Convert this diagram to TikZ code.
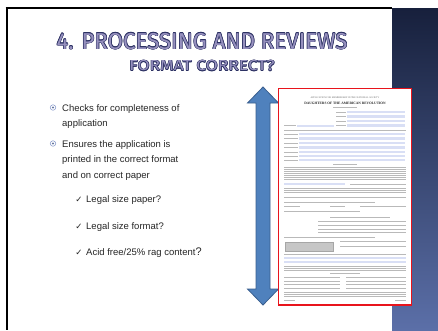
\documentclass[tikz,border=0pt]{standalone}
\usepackage{fontspec}
\setmainfont{Liberation Sans}
\newfontfamily\titlefont{Fira Sans}
\newfontfamily\tickfont{DejaVu Sans}
\newfontfamily\formserif{Liberation Serif}
\usepackage{xcolor}

\definecolor{ttlfill}{HTML}{9690BE}
\definecolor{ttledge}{HTML}{2C3163}
\definecolor{panelTop}{HTML}{17203C}
\definecolor{panelBot}{HTML}{5B6FA8}
\definecolor{arrowFill}{HTML}{4F81BD}
\definecolor{arrowEdge}{HTML}{3A5F8F}
\definecolor{docRed}{HTML}{E8141C}
\definecolor{formBlue}{HTML}{D9DFF5}
\definecolor{bulletRing}{HTML}{7F93C8}
\definecolor{bodyInk}{HTML}{262626}

% outlined title letters: dark copies round a light fill
\newcommand\ringtitle[3]{%
  \def\rt##1##2{\rlap{\kern##1\raisebox{##2}{\color{ttledge}#3}}}%
  \rt{-#1}{0pt}\rt{#1}{0pt}\rt{0pt}{#1}\rt{0pt}{-#1}%
  \rt{-#2}{#2}\rt{#2}{#2}\rt{-#2}{-#2}\rt{#2}{-#2}%
  #3}

\tikzset{
  titletext/.style={inner sep=0pt, text=ttlfill, font=\titlefont\fontsize{23}{26}\selectfont},
  subtitletext/.style={inner sep=0pt, text=ttlfill, font=\titlefont\fontsize{14.5}{16}\selectfont},
  bodytext/.style={inner sep=0pt, anchor=base west, text=bodyInk, font=\fontsize{9.5}{11}\selectfont},
  bulletmark/.style={circle, draw=bulletRing, line width=.5pt, fill=white, minimum size=5.5pt, inner sep=0pt,
    path picture={\fill[bulletRing!80!black] (path picture bounding box.center) circle (1.2pt);}},
  tickmark/.style={inner sep=0pt, anchor=base, text=bodyInk, font=\tickfont\fontsize{8.5}{9}\selectfont},
  blockarrow/.style={fill=arrowFill, draw=arrowEdge, line width=.8pt, line join=miter},
  docedge/.style={fill=white, draw=docRed, line width=1.6pt},
  formhead/.style={inner sep=0pt, text=black!60, font=\formserif\fontsize{2.4}{2.6}\selectfont},
  formtitle/.style={inner sep=0pt, text=black!85, font=\formserif\bfseries\fontsize{3.5}{3.7}\selectfont},
  formink/.style={draw=gray!55, line width=.45pt},
}

\begin{document}
\begin{tikzpicture}[x=1pt,y=-1pt]
        \useasboundingbox (0,0) rectangle (438,330);
        \fill[white] (0,0) rectangle (438,330);

        %blue side panel
        \shade[top color=panelTop, bottom color=panelBot] (392,8) rectangle (438,330);

        %slide frame
        \draw[line width=2pt] (5.7,7.7) -- (392,7.7);
        \draw[line width=2pt] (6.7,7.7) -- (6.7,330);

        %title and subtitle
        \node[titletext, anchor=base] (title) at (202,49.3) {\scalebox{.967}[1]{\ringtitle{.6pt}{.45pt}{4. PROCESSING AND REVIEWS}}};
        \node[subtitletext, anchor=base] (subtitle) at (202,70.7) {\scalebox{1.2}[1]{\ringtitle{.5pt}{.35pt}{FORMAT CORRECT?}}};

        %bullet points
        \node[bulletmark] (dot1) at (53,107.5) {};
        \node[bodytext] (checks) at (62,111) {Checks for completeness of};
        \node[bodytext] (checks2) at (62,126.5) {application};
        \node[bulletmark] (dot2) at (53,143.5) {};
        \node[bodytext] (ensures) at (62,147) {Ensures the application is};
        \node[bodytext] (ensures2) at (62,162.5) {printed in the correct format};
        \node[bodytext] (ensures3) at (62,178) {and on correct paper};

        %check list
        \node[tickmark] (tick1) at (79,202.5) {✓};
        \node[bodytext] (paper) at (86,202.5) {Legal size paper?};
        \node[tickmark] (tick2) at (79,229) {✓};
        \node[bodytext] (format) at (86,229) {Legal size format?};
        \node[tickmark] (tick3) at (79,255) {✓};
        \node[bodytext] (acid) at (86,255) {Acid free/25\% rag content{\fontsize{11}{12}\selectfont ?}};

        %double headed block arrow
        \draw[blockarrow] (263,87) -- (278.5,103) -- (270,103) -- (270,289) -- (278.5,289) -- (263,305)
              -- (247.5,289) -- (256,289) -- (256,103) -- (247.5,103) -- cycle;

        %application form page
        \draw[docedge] (278.5,88.5) rectangle (411.5,305);

        %form heading
        \node[formhead] (apphead) at (345,97.5) {APPLICATION FOR MEMBERSHIP IN THE NATIONAL SOCIETY};
        \node[formtitle] (darhead) at (345,103.5) {DAUGHTERS OF THE AMERICAN REVOLUTION};
        \draw[formink] (333,107) -- (357,107);

        %fields right of the heading
        \foreach \yy in {112,116.5,121,125.5} {
            \draw[formink] (336,\yy) -- (346,\yy);
            \fill[formBlue] (347,\yy-1.3) rectangle (405,\yy+1.3);
        }
        \draw[formink] (284,125.5) -- (296,125.5);
        \fill[formBlue] (297,124.5) rectangle (334,126.5);

        %applicant rows
        \draw[formink] (284,130) -- (406,130);
        \foreach \yy in {134,138.5,143,147.5,152,156,160} {
            \draw[formink] (284,\yy) -- (298,\yy);
            \fill[formBlue] (299,\yy-1.2) rectangle (405,\yy+1.2);
        }

        %eligibility claim
        \draw[formink, line width=.6pt] (333,164) -- (357,164);
        \foreach \yy in {167.5,169.5,...,179.5}
            \draw[formink] (284,\yy) -- (406,\yy);
        \fill[formBlue] (284,183) rectangle (345,185);
        \draw[formink] (350,184) -- (406,184);
        \foreach \yy in {188,190,192}
            \draw[formink] (284,\yy) -- (406,\yy);
        \draw[formink] (284,197) -- (406,197);
        \draw[formink] (284,202) -- (375,202);
        \draw[formink] (284,206) -- (300,206);
        \draw[formink] (330,206) -- (345,206);
        \draw[formink] (360,206) -- (406,206);
        \draw[formink] (284,211) -- (360,211);
        \draw[formink] (330,217) -- (390,217);
        \foreach \yy in {221,225,229,232}
            \draw[formink] (318,\yy) -- (406,\yy);

        %signatures
        \draw[formink] (284,237) -- (375,237);
        \filldraw[fill=gray!45, draw=gray!70, line width=.4pt] (285,242) rectangle (333,251);
        \draw[formink] (340,241) -- (406,241);
        \draw[formink] (340,246) -- (406,246);
        \draw[formink] (284,254) -- (406,254);
        \fill[formBlue] (284,257) rectangle (406,259);
        \fill[formBlue] (284,261) rectangle (406,263);
        \foreach \yy in {266,268,270}
            \draw[formink] (284,\yy) -- (406,\yy);
        \draw[formink, line width=.6pt] (330,273) -- (360,273);
        \foreach \yy in {277,281,284.5,288} {
            \draw[formink] (284,\yy) -- (340,\yy);
            \draw[formink] (346,\yy) -- (406,\yy);
        }
        \foreach \yy in {292,294,296}
            \draw[formink] (284,\yy) -- (406,\yy);
        \draw[formink] (284,300) -- (295,300);
        \draw[formink] (395,300) -- (406,300);

\end{tikzpicture}
\end{document}
